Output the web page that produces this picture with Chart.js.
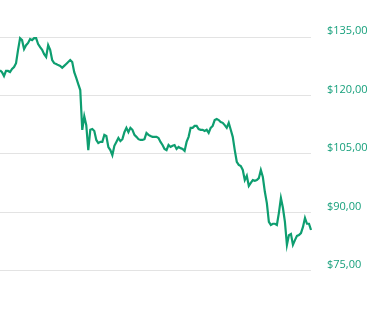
<!DOCTYPE html>
<html>
<head>
<meta charset="utf-8">
<script src="https://cdn.jsdelivr.net/npm/chart.js@4"></script>
<style>
  html, body { margin: 0; padding: 0; background: #fff; }
  #wrap { width: 377px; height: 315px; }
</style>
</head>
<body>
<div id="wrap"><canvas id="priceChart"></canvas></div>
<script>
// price series (one point per step)
const PRICES = [
  126.5, 126.0, 125.0, 126.3, 126.3, 126.0, 126.8, 127.3, 128.3, 131.7,
  134.7, 134.2, 131.9, 132.9, 133.5, 134.5, 134.2, 134.7, 134.7, 133.2,
  132.4, 131.7, 130.6, 129.9, 132.9, 131.7, 129.1, 128.3, 128.1, 127.8,
  127.6, 127.1, 127.6, 128.1, 128.6, 129.1, 128.6, 126.0, 124.5, 122.9,
  121.4, 111.2, 114.7, 112.4, 106.0, 111.2, 111.4, 110.9, 108.6, 107.8,
  108.1, 108.1, 109.9, 109.6, 106.8, 106.0, 104.7, 107.1, 108.1, 109.1,
  108.3, 108.8, 110.6, 111.7, 110.6, 111.7, 111.2, 109.9, 109.4, 108.8,
  108.6, 108.6, 108.8, 110.4, 109.9, 109.6, 109.4, 109.4, 109.4, 109.1,
  108.1, 107.3, 106.3, 106.0, 107.3, 106.8, 107.1, 107.3, 106.3, 106.8,
  106.5, 106.3, 105.8, 108.1, 109.4, 111.7, 111.7, 112.2, 112.2, 111.4,
  111.2, 111.2, 110.9, 111.2, 110.4, 111.7, 112.2, 113.7, 114.0, 113.7,
  113.2, 113.0, 112.4, 111.7, 113.0, 111.2, 109.4, 106.0, 103.0, 102.2,
  101.9, 100.9, 98.3, 99.4, 96.8, 97.6, 98.3, 98.1, 98.3, 98.8,
  100.9, 99.1, 95.3, 92.4, 87.6, 86.8, 87.1, 87.1, 86.8, 89.9,
  93.7, 91.2, 87.6, 81.7, 84.2, 84.5, 81.7, 82.9, 84.0, 84.2,
  84.7, 86.3, 88.6, 87.1, 87.1, 85.5
];
const LABELS = PRICES.map((p, i) => i + 1);
const Y_TICKS = [75, 90, 105, 120, 135];

function formatMoney(v) {
  return '$' + v.toFixed(2).replace('.', ',');
}

const ctx = document.getElementById('priceChart');
const priceChart = new Chart(ctx, {
  type: 'line',
  data: {
    labels: LABELS,
    datasets: [{
      data: PRICES,
      borderColor: '#0e9e70',
      borderWidth: 2.2,
      pointRadius: 0,
      tension: 0,
      fill: false
    }]
  },
  options: {
    responsive: true,
    maintainAspectRatio: false,
    animation: false,
    layout: { padding: 0 },
    plugins: {
      legend: { display: false },
      tooltip: { enabled: false }
    },
    scales: {
      x: {
        display: false,
        offset: false
      },
      y: {
        position: 'right',
        min: 63.7,
        max: 144.5,
        afterBuildTicks: (axis) => {
          axis.ticks = Y_TICKS.map(v => ({ value: v }));
        },
        afterFit: (axis) => {
          // keep the plot running edge to edge vertically
          axis.width = 66;
          axis.paddingTop = 0;
          axis.paddingBottom = 0;
        },
        border: { display: false },
        grid: { color: '#e3e3e3', drawTicks: false, lineWidth: 1 },
        ticks: {
          padding: 16,
          labelOffset: -6,
          color: '#17a07c',
          font: { family: 'Open Sans', size: 11 },
          callback: (v) => formatMoney(v)
        }
      }
    }
  }
});
</script>
</body>
</html>
